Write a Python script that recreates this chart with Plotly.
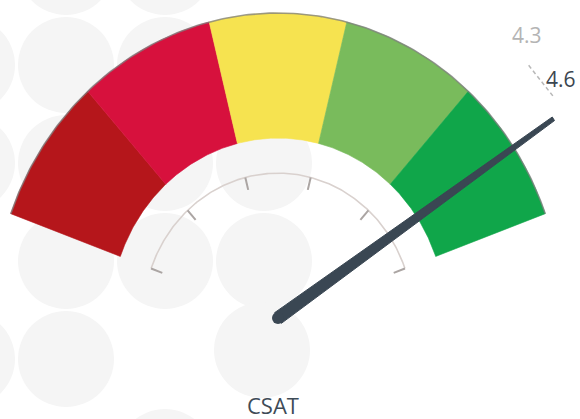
import numpy as np
import plotly.graph_objects as go

# ---------------- data ----------------
scale_min, scale_max = 1.0, 5.0
band_edges = [1.0, 1.8, 2.6, 3.4, 4.2, 5.0]
band_colors = ["#B5161B", "#D7113D", "#F6E350", "#79BB5C", "#10A64A"]
tick_values = [1.0, 1.8, 2.6, 3.4, 4.2, 5.0]
needle_value = 4.6
reference_value = 4.3
needle_label = "4.6"
reference_label = "4.3"
title_text = "CSAT"

# ---------------- geometry / style ----------------
W, H = 580, 419
START_DEG, END_DEG = 160.0, 20.0
R_IN = 0.59
TICK_R = 0.475
TICK_LEN = 0.042
NEEDLE_LEN = 1.168
CX_PX, CY_PX = 278.0, 318.0       # gauge centre in pixels
SX, SY = 284.4, 305.0             # pixels per unit (x, y)


def ang(v):
    frac = (v - scale_min) / (scale_max - scale_min)
    return np.deg2rad(START_DEG + (END_DEG - START_DEG) * frac)


fig = go.Figure()

# bands
for i, col in enumerate(band_colors):
    t = np.linspace(ang(band_edges[i]), ang(band_edges[i + 1]), 60)
    xs = np.concatenate([np.cos(t), R_IN * np.cos(t[::-1])])
    ys = np.concatenate([np.sin(t), R_IN * np.sin(t[::-1])])
    fig.add_trace(go.Scatter(x=np.append(xs, xs[0]), y=np.append(ys, ys[0]),
                             fill="toself", fillcolor=col, mode="lines",
                             line=dict(color=col, width=0.6), hoverinfo="skip"))

# outer grey rim
t = np.linspace(ang(scale_min), ang(scale_max), 200)
fig.add_trace(go.Scatter(x=np.cos(t), y=np.sin(t), mode="lines",
                         line=dict(color="rgba(125,125,125,0.75)", width=1.6),
                         hoverinfo="skip"))

# inner tick arc
fig.add_trace(go.Scatter(x=TICK_R * np.cos(t), y=TICK_R * np.sin(t), mode="lines",
                         line=dict(color="#D9D1CE", width=1.6), hoverinfo="skip"))
for v in tick_values:
    a = ang(v)
    fig.add_trace(go.Scatter(x=[TICK_R * np.cos(a), (TICK_R - TICK_LEN) * np.cos(a)],
                             y=[TICK_R * np.sin(a), (TICK_R - TICK_LEN) * np.sin(a)],
                             mode="lines", line=dict(color="#ABA5A3", width=2),
                             hoverinfo="skip"))

# dashed leader near the value label
a = ang(needle_value)
la = np.linspace(a + np.deg2rad(3.0), a + np.deg2rad(9.5), 2)
fig.add_trace(go.Scatter(x=1.21 * np.cos(la), y=1.21 * np.sin(la), mode="lines",
                         line=dict(color="#B8B8B8", width=1.5, dash="4px,3px"),
                         hoverinfo="skip"))

# needle (tapered)
w0, w1 = 6.0 / SX, 2.0 / SX
ux, uy = np.cos(a), np.sin(a)
px, py = -uy, ux
nx = [px * w0, ux * NEEDLE_LEN + px * w1, ux * NEEDLE_LEN - px * w1, -px * w0, px * w0]
ny = [py * w0, uy * NEEDLE_LEN + py * w1, uy * NEEDLE_LEN - py * w1, -py * w0, py * w0]
fig.add_trace(go.Scatter(x=nx, y=ny, fill="toself", fillcolor="#3A4753", mode="lines",
                         line=dict(color="#3A4753", width=1), hoverinfo="skip"))
fig.add_trace(go.Scatter(x=[0], y=[0], mode="markers",
                         marker=dict(size=12, color="#3A4753"), hoverinfo="skip"))

# background decorative circles (pixel space)
circle_centres = [(-33, 65), (-33, 163), (-33, 359), (66, -33), (66, 65), (66, 163),
                  (66, 261), (66, 359), (165, -33), (165, 65), (165, 163), (165, 261),
                  (165, 457), (264, 163), (264, 261), (262, 350)]
shapes = []
for cx, cy in circle_centres:
    r = 48
    shapes.append(dict(type="circle", xref="paper", yref="paper", layer="below",
                       x0=(cx - r) / W, x1=(cx + r) / W,
                       y0=1 - (cy + r) / H, y1=1 - (cy - r) / H,
                       fillcolor="#F5F5F5", line=dict(width=0)))

annotations = [
    dict(text=reference_label, xref="paper", yref="paper", x=527 / W, y=1 - 35 / H,
         showarrow=False, font=dict(family="Open Sans", size=21, color="#B4B4B4"),
         xanchor="center", yanchor="middle"),
    dict(text=needle_label, xref="paper", yref="paper", x=561 / W, y=1 - 79 / H,
         showarrow=False, font=dict(family="Open Sans", size=21, color="#3C4650"),
         xanchor="center", yanchor="middle"),
    dict(text=title_text, xref="paper", yref="paper", x=273 / W, y=1 - 405 / H,
         showarrow=False, font=dict(family="Open Sans", size=22, color="#3E4B57"),
         xanchor="center", yanchor="middle"),
]

fig.update_layout(
    width=W, height=H, autosize=False,
    margin=dict(l=0, r=0, t=0, b=0),
    paper_bgcolor="white", plot_bgcolor="white",
    showlegend=False,
    xaxis=dict(range=[-CX_PX / SX, (W - CX_PX) / SX], visible=False, fixedrange=True),
    yaxis=dict(range=[-(H - CY_PX) / SY, CY_PX / SY], visible=False, fixedrange=True),
    shapes=shapes, annotations=annotations,
)

fig.write_html("out.html", config={"displayModeBar": False},
               post_script="document.body.style.margin='0';document.body.style.overflow='hidden';")
